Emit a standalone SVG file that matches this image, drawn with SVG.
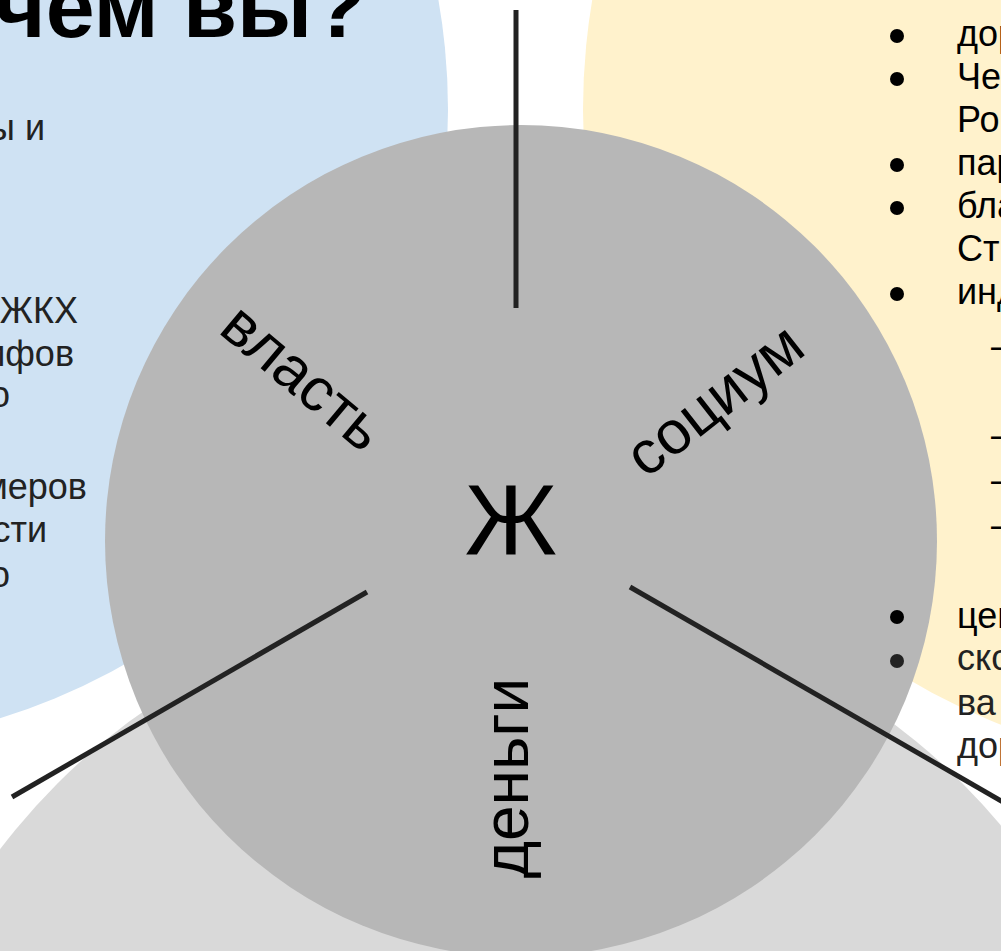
<svg xmlns="http://www.w3.org/2000/svg" width="1001" height="951" viewBox="0 0 1001 951">
<style>
.t{font-family:"Liberation Sans",Arial,sans-serif;font-size:36px;fill:#000}
.g{fill:#222}
.lbl{font-family:"Liberation Sans",Arial,sans-serif;fill:#000}
.conn{stroke:#222;stroke-width:5;fill:none}
</style>
<rect width="1001" height="951" fill="#fff"/>
<g id="blue"><circle cx="-189" cy="110" r="637" fill="#cfe2f3"/></g>
<g id="yellow"><circle cx="1244" cy="110" r="661" fill="#fff2cc"/></g>
<g id="bottom"><circle cx="510" cy="1236" r="640" fill="#d9d9d9"/></g>
<g id="heading"><text x="366" y="37" text-anchor="end" style="font-family:'Liberation Sans',Arial,sans-serif;font-weight:bold;font-size:88px;fill:#000">чем вы?</text></g>
<g id="left-text" text-anchor="end">
<text x="45" y="140" class="t g">ы и</text>
<text x="78" y="323" class="t g">ЖКХ</text>
<text x="74" y="366" class="t g">ифов</text>
<text x="10" y="407" class="t g">о</text>
<text x="87" y="499" class="t g">меров</text>
<text x="47" y="542" class="t g">сти</text>
<text x="10" y="587" class="t g">о</text>
</g>
<g id="center"><circle cx="521" cy="541" r="416" fill="#b7b7b7"/>
<text x="511" y="555" text-anchor="middle" class="lbl" font-size="100">Ж</text>
</g>
<g id="connectors">
<line class="conn" x1="516" y1="10" x2="516" y2="308"/>
<line class="conn" x1="367" y1="592" x2="12" y2="797"/>
<line class="conn" x1="630" y1="587" x2="1010" y2="806"/>
</g>
<g id="vlast"><text transform="translate(290,393) rotate(40)" text-anchor="middle" class="lbl" font-size="61">власть</text></g>
<g id="socium"><text transform="translate(727,416) rotate(-38)" text-anchor="middle" class="lbl" font-size="61">социум</text></g>
<g id="dengi"><text transform="translate(528,778) rotate(-90)" text-anchor="middle" class="lbl" font-size="64">деньги</text></g>
<g id="right-text">
<circle cx="897" cy="36" r="7" fill="#000"/>
<circle cx="897" cy="79" r="7" fill="#000"/>
<circle cx="897" cy="165" r="7" fill="#000"/>
<circle cx="897" cy="208" r="7" fill="#000"/>
<circle cx="897" cy="294" r="7" fill="#000"/>
<circle cx="897" cy="617" r="7" fill="#000"/>
<circle cx="897" cy="661" r="7" fill="#222"/>
<text x="957" y="46" class="t">дор</text>
<text x="957" y="89" class="t">Че</text>
<text x="957" y="132" class="t">Ро</text>
<text x="957" y="175" class="t">пар</text>
<text x="957" y="218" class="t">бла</text>
<text x="957" y="261" class="t">Ст</text>
<text x="957" y="304" class="t">инд</text>
<text x="991" y="358" class="t">–</text>
<text x="991" y="447" class="t">–</text>
<text x="991" y="492" class="t">–</text>
<text x="991" y="537" class="t">–</text>
<text x="957" y="628" class="t">цен</text>
<text x="957" y="670" class="t g">ско</text>
<text x="957" y="715" class="t g">ва</text>
<text x="957" y="758" class="t g">дор</text>
</g>
</svg>
